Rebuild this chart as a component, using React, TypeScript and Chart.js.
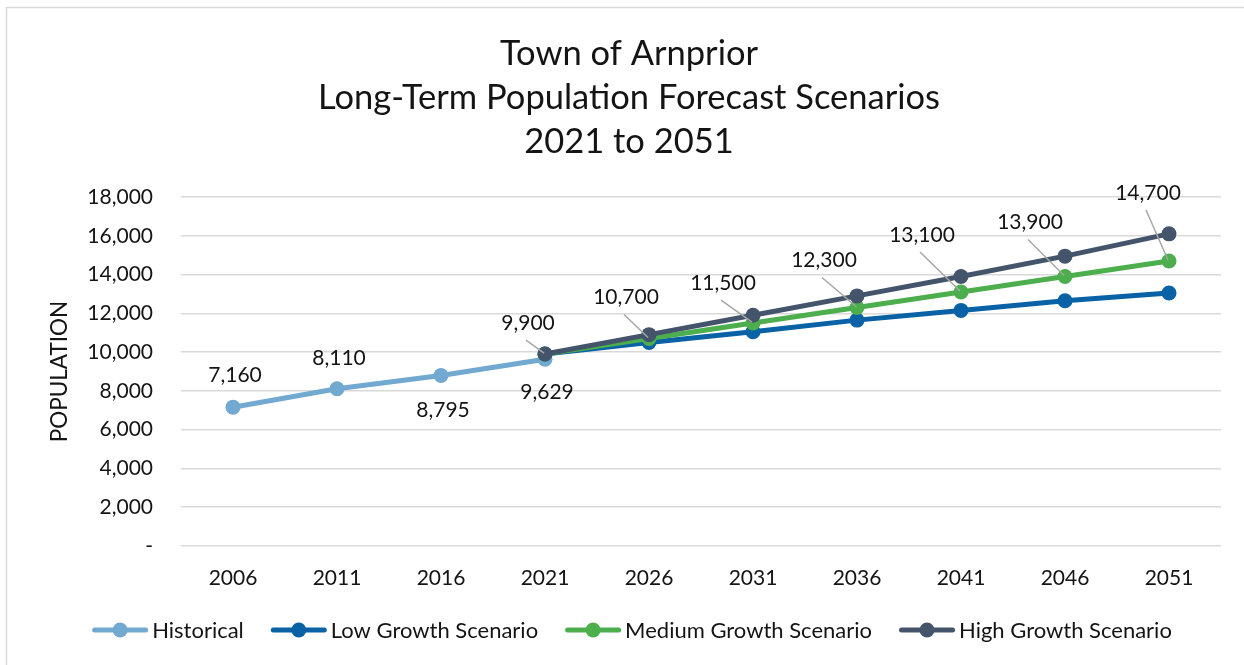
import React, { useEffect, useRef } from 'react';
import { Chart, registerables } from 'chart.js';

Chart.register(...registerables);

const years = ['2006', '2011', '2016', '2021', '2026', '2031', '2036', '2041', '2046', '2051'];
const historical = [7160, 8110, 8795, 9629, null, null, null, null, null, null];
const lowGrowth = [null, null, null, 9900, 10500, 11050, 11650, 12150, 12650, 13050];
const mediumGrowth = [null, null, null, 9900, 10700, 11500, 12300, 13100, 13900, 14700];
const highGrowth = [null, null, null, 9900, 10900, 11900, 12900, 13900, 14950, 16100];

const titleLines = ['Town of Arnprior', 'Long-Term Population Forecast Scenarios', '2021 to 2051'];
const seriesNames = ['Historical', 'Low Growth Scenario', 'Medium Growth Scenario', 'High Growth Scenario'];
const seriesColors = ['#72a9d0', '#0862a5', '#4cae4c', '#44546a'];

// label placement offsets (px) relative to point
const histLabelOffsets = [[2, -32], [2, -31], [2, 35], [2, 33]];
const mediumLabelOffsets = [[-17, -31], [-23, -41], [-30, -40], [-33, -47], [-39, -57], [-35, -54], [-21, -68]];

const FONT = 'Lato, "Open Sans", "DejaVu Sans", sans-serif';
const TEXT = '#141414';

const fmt = (v: number) => v.toLocaleString('en-US');

const framePlugin = {
  id: 'frame',
  beforeDraw(chart: any) {
    const ctx = chart.ctx;
    ctx.save();
    ctx.fillStyle = '#ffffff';
    ctx.fillRect(0, 0, chart.width, chart.height);
    ctx.strokeStyle = '#d9d9d9';
    ctx.lineWidth = 1.5;
    ctx.beginPath();
    ctx.moveTo(6.5, chart.height);
    ctx.lineTo(6.5, 7.5);
    ctx.lineTo(chart.width, 7.5);
    ctx.stroke();
    ctx.restore();
  },
};

const labelPlugin = {
  id: 'pointLabels',
  afterDatasetsDraw(chart: any) {
    const ctx = chart.ctx;
    ctx.save();
    ctx.font = `21px ${FONT}`;
    ctx.fillStyle = TEXT;
    ctx.textAlign = 'center';
    ctx.textBaseline = 'middle';
    const hMeta = chart.getDatasetMeta(0);
    historical.forEach((v, i) => {
      if (v == null) return;
      const p = hMeta.data[i];
      const [dx, dy] = histLabelOffsets[i];
      ctx.fillText(fmt(v), p.x + dx, p.y + dy);
    });
    const mMeta = chart.getDatasetMeta(2);
    mediumGrowth.forEach((v, i) => {
      if (v == null) return;
      const p = mMeta.data[i];
      const [dx, dy] = mediumLabelOffsets[i - 3];
      const lx = p.x + dx;
      const ly = p.y + dy;
      ctx.strokeStyle = '#a6a6a6';
      ctx.lineWidth = 1.5;
      ctx.beginPath();
      ctx.moveTo(lx - 2, ly + 17);
      ctx.lineTo(p.x - 1, p.y - 1);
      ctx.stroke();
      ctx.fillText(fmt(v), lx, ly);
    });
    ctx.restore();
  },
};

const legendPlugin = {
  id: 'customLegend',
  afterDraw(chart: any) {
    const ctx = chart.ctx;
    ctx.save();
    ctx.font = `22px ${FONT}`;
    ctx.textBaseline = 'middle';
    ctx.textAlign = 'left';
    const iconW = 56;
    const gapText = 4;
    const gapItem = 27;
    const widths = seriesNames.map((t) => iconW + gapText + ctx.measureText(t).width);
    const total = widths.reduce((a, b) => a + b, 0) + gapItem * (widths.length - 1);
    const cy = 630;
    let x = 632 - total / 2;
    seriesNames.forEach((name, i) => {
      const c = seriesColors[i];
      ctx.strokeStyle = c;
      ctx.lineWidth = 5;
      ctx.lineCap = 'round';
      ctx.beginPath();
      ctx.moveTo(x + 2.5, cy);
      ctx.lineTo(x + iconW - 2.5, cy);
      ctx.stroke();
      ctx.fillStyle = c;
      ctx.beginPath();
      ctx.arc(x + iconW / 2, cy, 7.5, 0, Math.PI * 2);
      ctx.fill();
      ctx.fillStyle = TEXT;
      ctx.fillText(name, x + iconW + gapText, cy + 1);
      x += widths[i] + gapItem;
    });
    ctx.restore();
  },
};

function makeDataset(label: string, data: (number | null)[], color: string, order: number) {
  return {
    label,
    data,
    borderColor: color,
    backgroundColor: color,
    pointBackgroundColor: color,
    pointBorderColor: color,
    pointBorderWidth: 0,
    pointRadius: 7.5,
    pointHoverRadius: 7.5,
    borderWidth: 5,
    borderJoinStyle: 'round' as const,
    tension: 0,
    spanGaps: false,
    order,
  };
}

export default function App() {
  const canvasRef = useRef<HTMLCanvasElement | null>(null);

  useEffect(() => {
    if (!canvasRef.current) return;
    const chart = new Chart(canvasRef.current, {
      type: 'line',
      data: {
        labels: years,
        datasets: [
          makeDataset(seriesNames[0], historical, seriesColors[0], 3),
          makeDataset(seriesNames[1], lowGrowth, seriesColors[1], 2),
          makeDataset(seriesNames[2], mediumGrowth, seriesColors[2], 1),
          makeDataset(seriesNames[3], highGrowth, seriesColors[3], 0),
        ],
      },
      options: {
        responsive: false,
        animation: false,
        devicePixelRatio: 1,
        layout: { padding: { left: 37, right: 23, top: 0, bottom: 0 } },
        plugins: {
          legend: { display: false },
          tooltip: { enabled: false },
          title: {
            display: true,
            text: titleLines,
            color: TEXT,
            font: { family: FONT, size: 34.5, weight: 'normal', lineHeight: 44 / 34.5 },
            padding: { top: 32, bottom: 33 },
          },
        },
        scales: {
          x: {
            type: 'category',
            offset: true,
            grid: { display: false, drawTicks: false },
            border: { display: false },
            ticks: { color: TEXT, font: { family: FONT, size: 21 }, padding: 20, maxRotation: 0 },
            afterFit: (s: any) => {
              s.height = 119;
            },
          },
          y: {
            min: 0,
            max: 18000,
            grid: { color: '#d9d9d9', lineWidth: 1.5, drawTicks: false },
            border: { display: false },
            ticks: {
              stepSize: 2000,
              color: TEXT,
              font: { family: FONT, size: 21 },
              padding: 28,
              callback: (v: any) => (Number(v) === 0 ? '-' : fmt(Number(v))),
            },
            title: {
              display: true,
              text: 'POPULATION',
              color: TEXT,
              font: { family: FONT, size: 22.5 },
              padding: { top: 9, bottom: 0 },
            },
            afterFit: (s: any) => {
              s.width = 144;
            },
          },
        },
      },
      plugins: [framePlugin, labelPlugin, legendPlugin],
    });
    return () => chart.destroy();
  }, []);

  return (
    <div style={{ position: 'fixed', left: 0, top: 0, width: 1244, height: 665, background: '#fff' }}>
      <canvas ref={canvasRef} width={1244} height={665} style={{ width: 1244, height: 665, display: 'block' }} />
    </div>
  );
}
